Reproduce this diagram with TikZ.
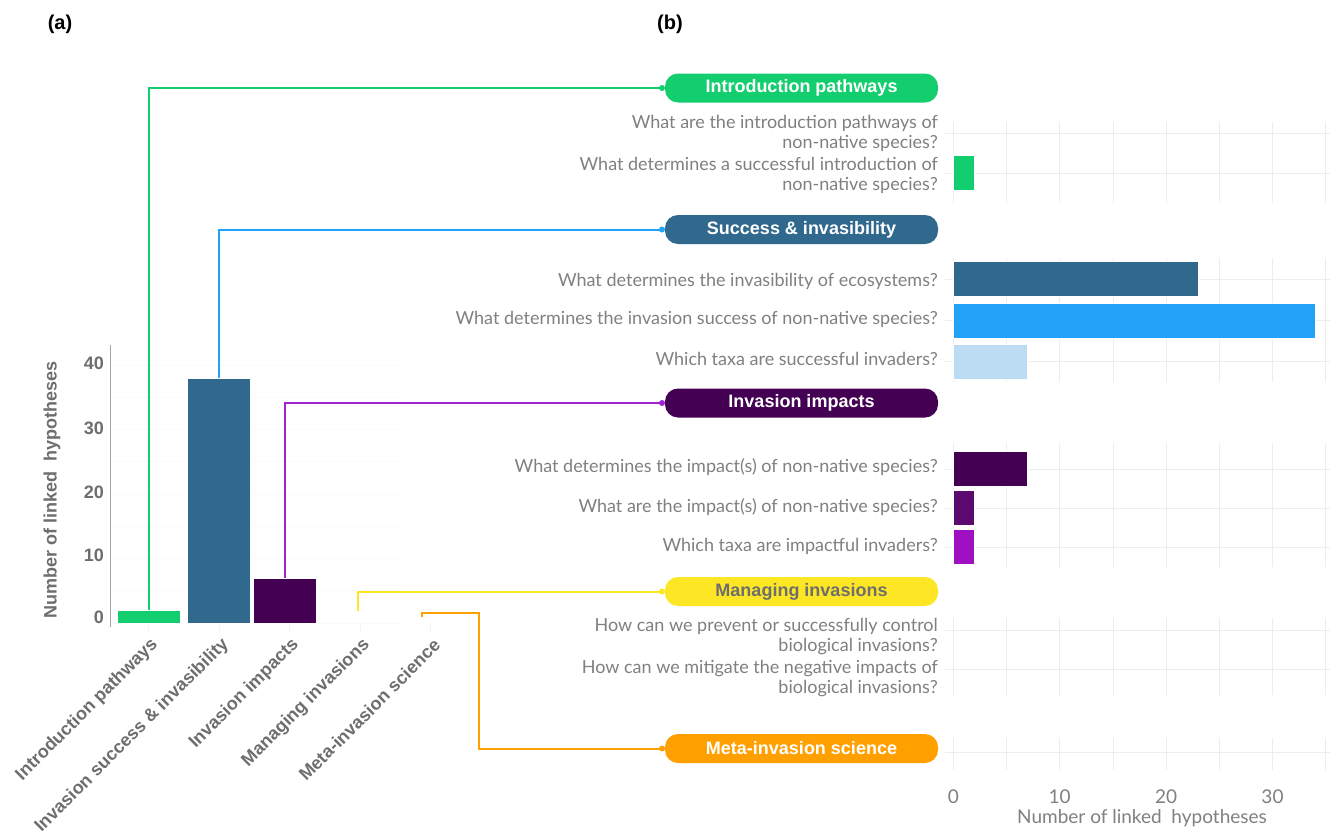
\documentclass[tikz,border=0pt]{standalone}
\usepackage{fontspec}
\setmainfont{Lato}
\newfontfamily\labfont{Lato}
\newfontfamily\boldfont{Liberation Sans}
\usetikzlibrary{calc}
\definecolor{cGreen}{HTML}{13CE6F}
\definecolor{cBlueD}{HTML}{31688E}
\definecolor{cBlueB}{HTML}{22A2F8}
\definecolor{cBlueL}{HTML}{BBDCF3}
\definecolor{cPurD}{HTML}{440154}
\definecolor{cPurM}{HTML}{5B0A70}
\definecolor{cPurB}{HTML}{9E10C2}
\definecolor{cPurLine}{HTML}{A322D2}
\definecolor{cYellow}{HTML}{FDE725}
\definecolor{cOrange}{HTML}{FFA000}
\definecolor{cTxt}{HTML}{808080}
\definecolor{cAx}{HTML}{6E6E6E}
\definecolor{cGrid}{HTML}{EDEDED}
\tikzset{
  vbar/.style={draw=white, line width=0.6, inner sep=0, outer sep=0, minimum width=63, anchor=south},
  hbar/.style={draw=white, line width=0.6, inner sep=0, outer sep=0, minimum height=35, anchor=west},
  pill/.style={rounded corners=13, inner sep=0, outer sep=0, minimum width=273, minimum height=29,
     font=\boldfont\bfseries\fontsize{18}{21}\selectfont, text=white},
  conn/.style={line width=2},
  cdot/.style={circle, inner sep=0, minimum size=6},
  qlab/.style={anchor=east, align=right, text=cTxt, font=\labfont\fontsize{18}{20}\selectfont, inner sep=0},
  ytick/.style={anchor=east, text=cAx, font=\boldfont\bfseries\fontsize{18}{20}\selectfont, inner sep=0},
  catlab/.style={anchor=east, rotate=45, text=cAx, font=\boldfont\bfseries\fontsize{18}{20}\selectfont, inner sep=0},
  xtick/.style={text=cTxt, font=\labfont\fontsize{19}{21}\selectfont, inner sep=0},
  grid/.style={draw=cGrid, line width=0.8},
  plab/.style={font=\boldfont\bfseries\fontsize{20}{22}\selectfont},
}
\begin{document}
\begin{tikzpicture}[x=1pt,y=-1pt]
\useasboundingbox[fill=white] (0,0) rectangle (1330,833);

% panel letters
\node[plab] (pa) at (60,24) {(a)};
\node[plab] (pb) at (670,24) {(b)};

% ---------- left chart ----------
\foreach \v in {0,5,...,40}{
  \draw[draw=gray!4, line width=0.6] (110,{623-6.45*\v}) -- (400,{623-6.45*\v});
}
\foreach \x in {148.5,219,289.5,360,430.5}{
  \draw[draw=gray!8, line width=0.6] (\x,624) -- (\x,633);
}
\draw[draw=gray!70, line width=0.8] (110,345) -- (110,627);
\node[ytick] (t0) at (104,617) {0};
\node[ytick] (t10) at (104,555) {10};
\node[ytick] (t20) at (104,492) {20};
\node[ytick] (t30) at (104,428) {30};
\node[ytick] (t40) at (104,363) {40};
\node[rotate=90, text=cAx, font=\boldfont\bfseries\fontsize{18}{20}\selectfont] (ylab) at (52,490) {Number of linked\ \ hypotheses};

\node[vbar, fill=cGreen, minimum height=12.9] (bIntro) at (148.5,623) {};
\node[vbar, fill=cBlueD, minimum height=245.1] (bSucc) at (219,623) {};
\node[vbar, fill=cPurD, minimum height=45.2] (bImp) at (284.5,623) {};
\coordinate (yStart) at (358,611);
\coordinate (oStart) at (422,617);
\coordinate (oBend) at (479,613);

\node[catlab] (cl1) at (155,642) {Introduction pathways};
\node[catlab] (cl2) at (226,642) {Invasion success \& invasibility};
\node[catlab] (cl3) at (296,642) {Invasion impacts};
\node[catlab] (cl4) at (367,642) {Managing invasions};
\node[catlab] (cl5) at (437,642) {Meta-invasion science};

% ---------- pills ----------
\node[pill, fill=cGreen] (pIntro) at (801.5,88) {Introduction pathways};
\node[pill, fill=cBlueD] (pSucc) at (801.5,229.5) {Success \& invasibility};
\node[pill, fill=cPurD] (pImp) at (801.5,403) {Invasion impacts};
\node[pill, fill=cYellow, text=cAx] (pMan) at (801.5,591.5) {Managing invasions};
\node[pill, fill=cOrange] (pMeta) at (801.5,748.5) {Meta-invasion science};

% ---------- connectors ----------
\draw[conn, cGreen] (bIntro.north) |- ([xshift=-3]pIntro.west) node[cdot, fill=cGreen] {};
\draw[conn, cBlueB] (bSucc.north) |- ([xshift=-3]pSucc.west) node[cdot, fill=cBlueB] {};
\draw[conn, cPurLine] (bImp.north) |- ([xshift=-3]pImp.west) node[cdot, fill=cPurLine] {};
\draw[conn, cYellow] (yStart) |- ([xshift=-3]pMan.west) node[cdot, fill=cYellow] {};
\draw[conn, cOrange] (oStart) |- (oBend) |- ([xshift=-3]pMeta.west) node[cdot, fill=cOrange] {};

% ---------- right chart grids ----------
\foreach \t/\b in {122/203, 258/382, 443/567, 618/695, 738/770}{
  \foreach \k in {0,...,7}{
    \draw[grid] ({953.3+53.2*\k},\t) -- ({953.3+53.2*\k},\b);
  }
}
\foreach \y in {133,173,279,320,361,469,508,547,630,669,752}{
  \draw[grid] (945,\y) -- (1330,\y);
}

% ---------- right bars ----------
\node[hbar, fill=cGreen, minimum width=21.3] (rIntro2) at (953,173) {};
\node[hbar, fill=cBlueD, minimum width=245] (rInvas) at (953,278.5) {};
\node[hbar, fill=cBlueB, minimum width=362] (rSucc) at (953,320.5) {};
\node[hbar, fill=cBlueL, minimum width=74.5] (rTaxa) at (953,361.5) {};
\node[hbar, fill=cPurD, minimum width=74.5] (rImp1) at (953,469) {};
\node[hbar, fill=cPurM, minimum width=21.3] (rImp2) at (953,508) {};
\node[hbar, fill=cPurB, minimum width=21.3] (rImp3) at (953,546.5) {};

% ---------- question labels ----------
\node[qlab] (q1) at (938,133.5) {What are the introduction pathways of\\non-native species?};
\node[qlab] (q2) at (938,175.5) {What determines a successful introduction of\\non-native species?};
\node[qlab] (q3) at (938,281) {What determines the invasibility of ecosystems?};
\node[qlab] (q4) at (938,319) {What determines the invasion success of non-native species?};
\node[qlab] (q5) at (938,359) {Which taxa are successful invaders?};
\node[qlab] (q6) at (938,467) {What determines the impact(s) of non-native species?};
\node[qlab] (q7) at (938,507) {What are the impact(s) of non-native species?};
\node[qlab] (q8) at (938,546) {Which taxa are impactful invaders?};
\node[qlab] (q9) at (938,637) {How can we prevent or successfully control\\biological invasions?};
\node[qlab] (q10) at (938,679) {How can we mitigate the negative impacts of\\biological invasions?};

% ---------- right x axis ----------
\node[xtick] (x0) at (953.3,797) {0};
\node[xtick] (x10) at (1059.7,797) {10};
\node[xtick] (x20) at (1166.1,797) {20};
\node[xtick] (x30) at (1272.5,797) {30};
\node[xtick] (xlab) at (1142,818) {Number of linked\ \ hypotheses};
\end{tikzpicture}
\end{document}
